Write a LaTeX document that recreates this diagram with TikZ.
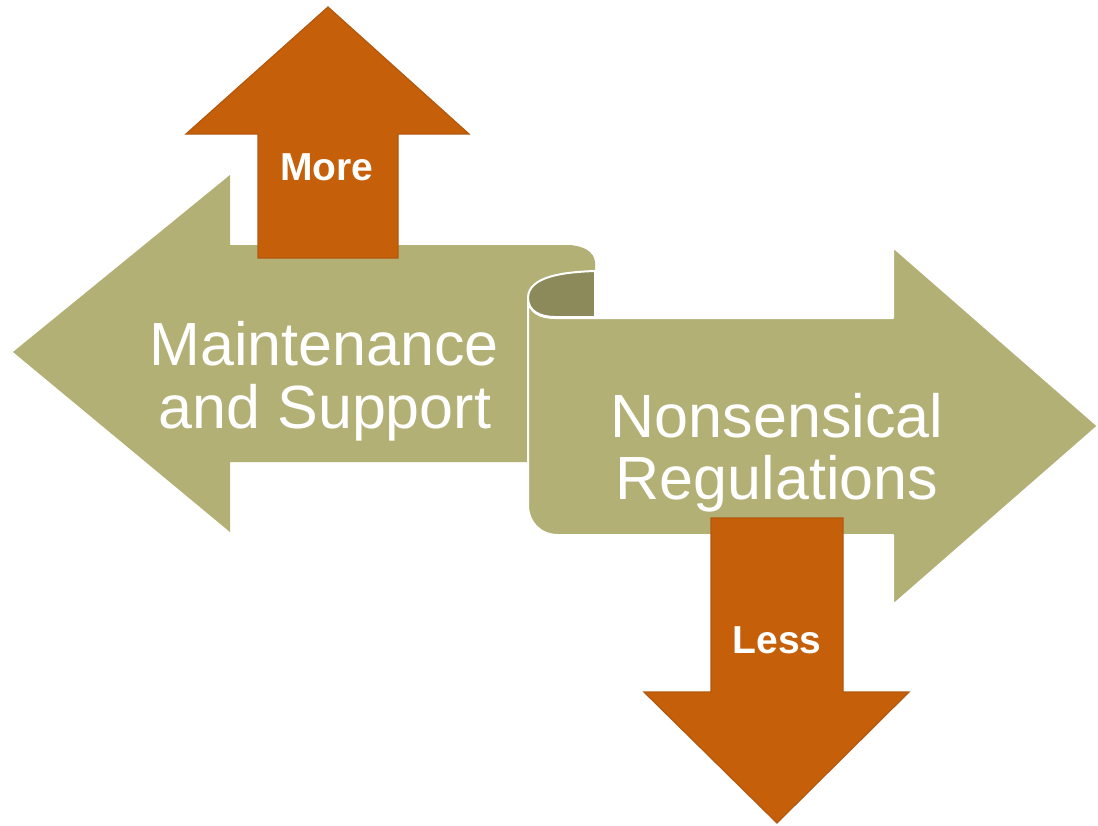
\documentclass[tikz,border=0pt]{standalone}
\usepackage{fontspec}
\setmainfont{Liberation Sans}
\definecolor{olive}{HTML}{B3B075}
\definecolor{olivedark}{HTML}{8C8A5A}
\definecolor{rust}{HTML}{C55F09}
\definecolor{rustedge}{HTML}{B3580F}
\begin{document}
\begin{tikzpicture}[x=1pt,y=-1pt,
  bigtext/.style={text=white,inner sep=0pt,anchor=base,font=\fontsize{61}{63}\selectfont},
  smalltext/.style={text=white,inner sep=0pt,anchor=base,font=\bfseries\fontsize{39}{41}\selectfont},
  bigarrow/.style={fill=olive,draw=white,line width=2pt,line join=round},
  curl/.style={fill=olivedark,draw=white,line width=2pt,line join=round},
  vertarrow/.style={fill=rust,draw=rustedge,line width=1.2pt}]
\useasboundingbox[fill=white] (0,0) rectangle (1098,825);
% left arrow
\path[fill=olive] (13,352) -- (230,175) -- (230,245) -- (567,245)
  .. controls (583,245) and (595,252) .. (595,263) -- (595,300) -- (528,300)
  -- (528,462) -- (230,462) -- (230,532) -- cycle;
% right arrow
\path[bigarrow] (528,298) -- (528,505) .. controls (528,522) and (540,535) .. (558,535)
  -- (893,535) -- (893,605) -- (1098,426) -- (893,247) -- (893,318) -- (555,318)
  .. controls (540,318) and (528,312) .. (528,298);
% curl
\path[curl] (595,271) .. controls (565,272) and (528,276) .. (528,298)
  .. controls (528,311) and (540,317) .. (555,317) -- (595,317) -- cycle;
% vertical arrows
\path[vertarrow] (328,7) -- (469,134) -- (398,134) -- (398,258) -- (258,258) -- (258,134) -- (186,134) -- cycle;
\path[vertarrow] (711,518) -- (843,518) -- (843,692) -- (909,692) -- (777,823) -- (644,692) -- (711,692) -- cycle;
% texts
\node[bigtext] (m1) at (324,365) {Maintenance};
\node[bigtext] (m2) at (325,428) {and Support};
\node[bigtext] (n1) at (777,437) {Nonsensical};
\node[bigtext] (n2) at (777,499) {Regulations};
\node[smalltext] (more) at (327,180) {More};
\node[smalltext] (less) at (777,653) {Less};
\end{tikzpicture}
\end{document}
